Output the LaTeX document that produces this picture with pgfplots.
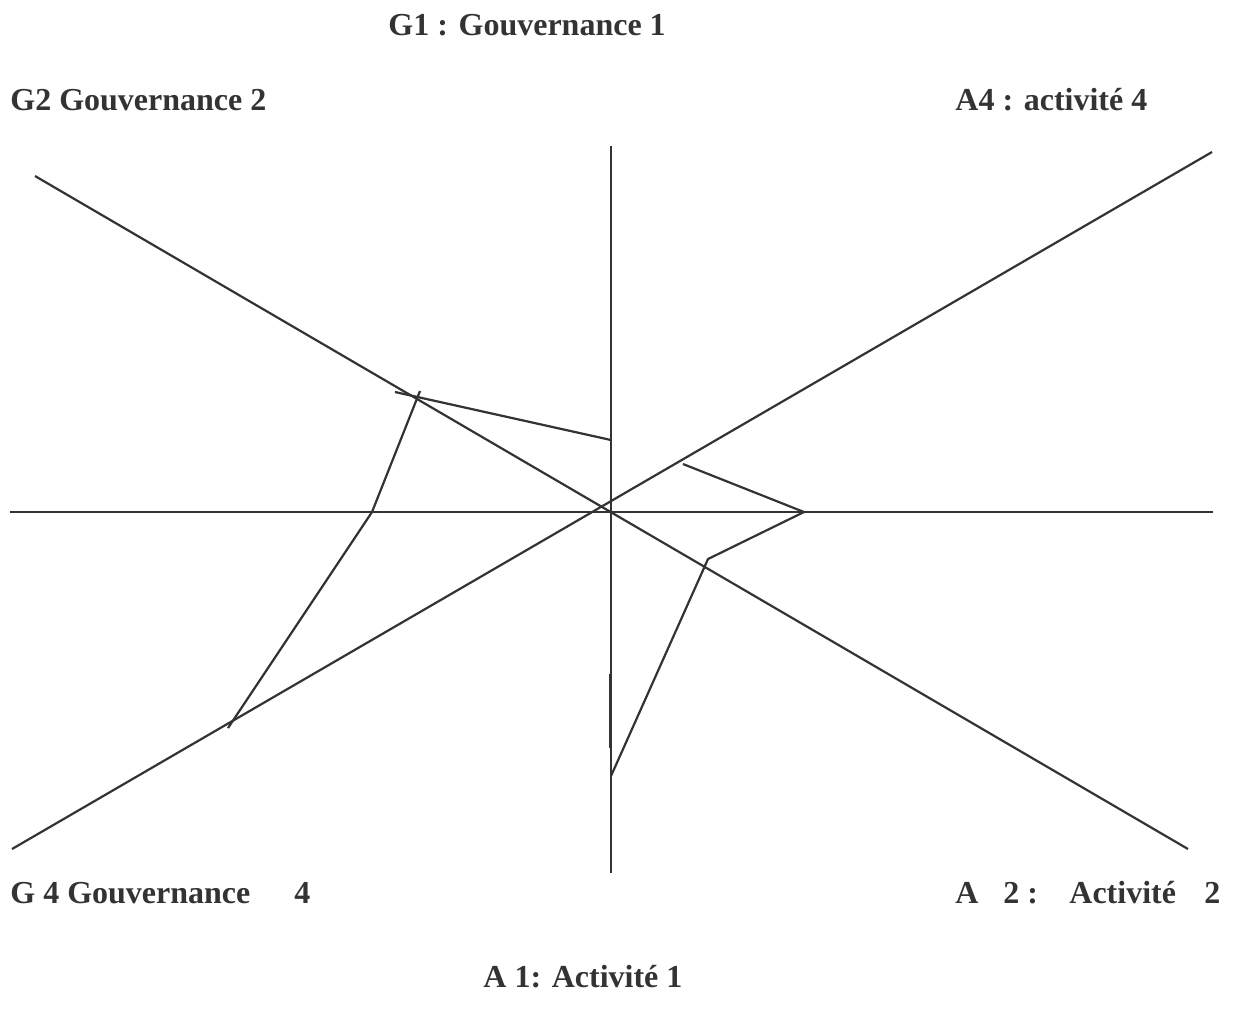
\documentclass[border=0pt]{standalone}
\usepackage{fontspec}
\setmainfont{Liberation Serif}
\usepackage{pgfplots}
\pgfplotsset{compat=1.18}
\definecolor{ink}{HTML}{333333}
\tikzset{lbl/.style={anchor=base west, inner sep=0pt, font=\fontsize{16}{18}\selectfont\bfseries, text=ink},
  stroke/.style={draw=ink, line width=1.1pt, mark=none, solid}}

\begin{document}
\begin{tikzpicture}
% axis in pixel units of the reference (1 px = 0.5 pt), y downwards
\begin{axis}[
width=616.5pt, height=509.5pt, scale only axis,
xmin=0, xmax=1233, ymin=0, ymax=1019,
y dir=reverse, axis lines=none, clip=false,
]
\path (axis cs:0,0) rectangle (axis cs:1233,1019);
% spokes
\addplot[stroke] coordinates {(10,512) (1213,512)};
\addplot[stroke] coordinates {(611,146) (611,873)};
\addplot[stroke] coordinates {(35,176) (1188,849)};
\addplot[stroke] coordinates {(12,849) (1212,152)};
% governance profile (G1 -> G2 -> G3 -> G4)
\addplot[stroke] coordinates {(611,440) (395,392)};
\addplot[stroke] coordinates {(420,391) (372,512) (228,728)};
% activity profile (A4 -> A3 -> A2 -> A1)
\addplot[stroke] coordinates {(683,464) (804,512) (708,559) (611,776)};
\addplot[stroke, line width=1.4pt] coordinates {(610.6,674) (610.6,748)};
% labels
\node[lbl] at (axis cs:388,35) {G1 : Gouvernance 1};
\node[lbl] at (axis cs:10,110) {G2 Gouvernance 2};
\node[lbl] at (axis cs:955,110) {A4 : activité 4};
\node[lbl] at (axis cs:10,903) {G 4 Gouvernance};
\node[lbl] at (axis cs:294,903) {4};
\node[lbl] at (axis cs:955,903) {A};
\node[lbl] at (axis cs:1003,903) {2 :};
\node[lbl] at (axis cs:1069,903) {Activité};
\node[lbl] at (axis cs:1204,903) {2};
\node[lbl] at (axis cs:483,987) {A 1: Activité 1};
\end{axis}
\end{tikzpicture}
\end{document}
